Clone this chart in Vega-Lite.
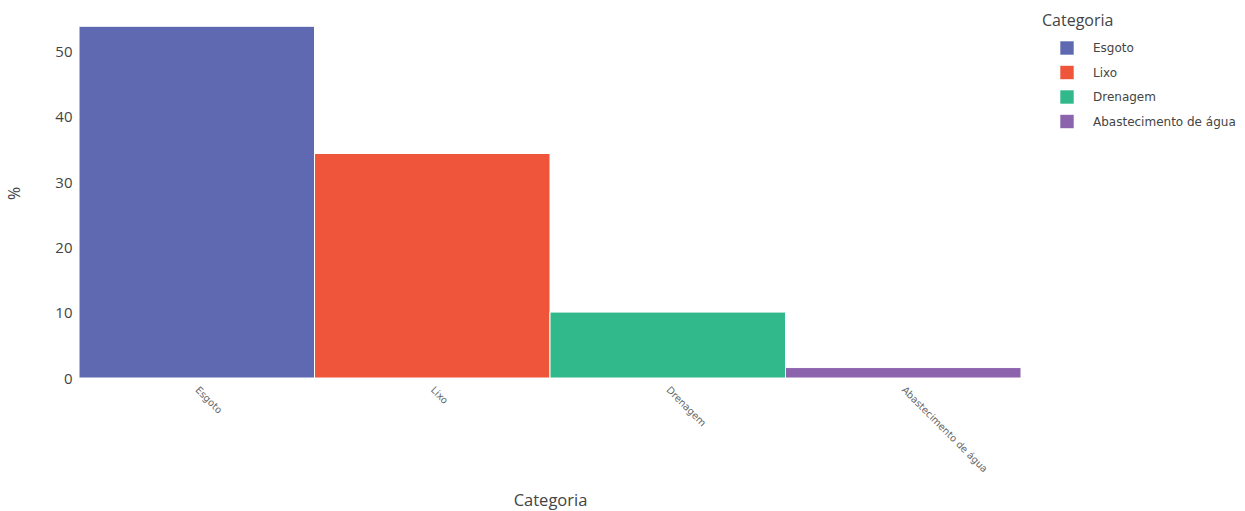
{
  "$schema": "https://vega.github.io/schema/vega-lite/v6.json",
  "autosize": "none",
  "width": 942,
  "height": 370,
  "padding": {"left": 79, "top": 8, "right": 224, "bottom": 133},
  "background": "white",
  "data": {"values": [
    {"Categoria": "Esgoto", "pct": 53.9},
    {"Categoria": "Lixo", "pct": 34.4},
    {"Categoria": "Drenagem", "pct": 10.1},
    {"Categoria": "Abastecimento de água", "pct": 1.6}
  ]},
  "mark": {"type": "bar", "stroke": "white", "strokeWidth": 1},
  "encoding": {
    "x": {
      "field": "Categoria", "type": "nominal",
      "sort": ["Esgoto", "Lixo", "Drenagem", "Abastecimento de água"],
      "scale": {"paddingInner": 0, "paddingOuter": 0},
      "axis": {
        "title": "Categoria", "titleFont": "Open Sans", "titleFontSize": 16.5, "titleFontWeight": "normal",
        "titleColor": "#444", "titleY": 127, "titleBaseline": "alphabetic",
        "labelAngle": 45, "labelAlign": "left", "labelBaseline": "middle", "labelFont": "DejaVu Sans",
        "labelFontSize": 9.8, "labelColor": "#666", "labelPadding": 10,
        "domain": false, "ticks": false
      }
    },
    "y": {
      "field": "pct", "type": "quantitative",
      "scale": {"domain": [0, 56.7], "nice": false},
      "axis": {
        "title": "%", "titleFont": "Open Sans", "titleFontSize": 16, "titleFontWeight": "normal",
        "titleColor": "#444", "titleX": -57, "titleY": 185,
        "values": [0, 10, 20, 30, 40, 50],
        "labelFont": "Open Sans", "labelFontSize": 15, "labelColor": "#444", "labelPadding": 7,
        "grid": false, "domain": false, "ticks": false
      }
    },
    "color": {
      "field": "Categoria", "type": "nominal",
      "sort": ["Esgoto", "Lixo", "Drenagem", "Abastecimento de água"],
      "scale": {
        "domain": ["Esgoto", "Lixo", "Drenagem", "Abastecimento de água"],
        "range": ["#5f69b1", "#ee553b", "#31b98c", "#8b64ad"]
      },
      "legend": {
        "orient": "none", "legendX": 963, "legendY": 5,
        "title": "Categoria", "titleFont": "Open Sans", "titleFontSize": 16, "titleFontWeight": "normal",
        "titleColor": "#444", "titlePadding": 12,
        "symbolType": "square", "symbolSize": 180, "symbolStrokeWidth": 0, "symbolOpacity": 1,
        "symbolOffset": 18,
        "labelFont": "DejaVu Sans", "labelFontSize": 12, "labelColor": "#444", "labelOffset": 19,
        "rowPadding": 10.5, "padding": 0, "offset": 0, "labelLimit": 300
      }
    }
  },
  "config": {"view": {"stroke": null}}
}
